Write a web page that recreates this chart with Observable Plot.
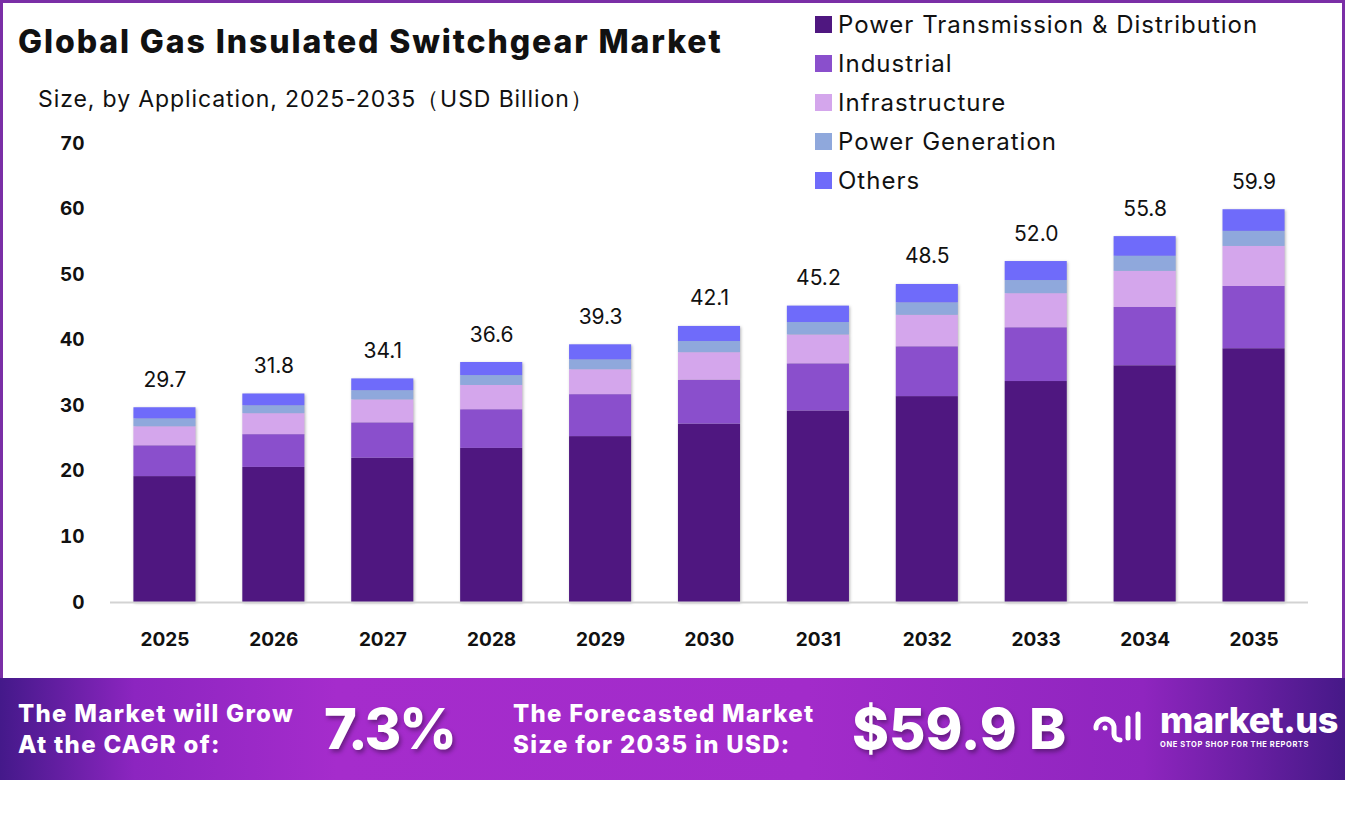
<!DOCTYPE html>
<html>
<head>
<meta charset="utf-8">
<script src="https://cdn.jsdelivr.net/npm/d3@7"></script>
<script src="https://cdn.jsdelivr.net/npm/@observablehq/plot@0.6"></script>
<style>
  html, body { margin: 0; padding: 0; background: #fff; }
  #page { position: relative; width: 1345px; height: 816px; overflow: hidden; background: #fff; font-family: Inter, "Open Sans", sans-serif; }
  #frame { position: absolute; left: 0; top: 0; width: 1345px; height: 680px; box-sizing: border-box; border: 3px solid #7a2ea6; border-bottom: none; }
  #title { position: absolute; left: 18px; top: 22px; font-size: 32px; font-weight: 800; color: #111; letter-spacing: 1.9px; white-space: nowrap; }
  #subtitle { position: absolute; left: 38px; top: 84px; font-size: 23px; font-weight: 400; color: #111; letter-spacing: 0.9px; white-space: nowrap; }
  #legend { position: absolute; left: 815px; top: 5px; }
  .lg { display: flex; align-items: center; height: 39px; font-size: 24px; letter-spacing: 1px; color: #111; white-space: nowrap; }
  .lg span.sw { display: inline-block; width: 17px; height: 17px; margin-right: 6px; }
  #chart { position: absolute; left: 0; top: 120px; }
  #chart g[aria-label="bar"] { filter: drop-shadow(1.5px 1px 1.5px rgba(0,0,0,0.28)); }
  #footer { position: absolute; left: 0; top: 678px; width: 1345px; height: 102px;
    background: linear-gradient(90deg, #44198a 0%, #8c25c0 10%, #a52ccc 25%, #a22bca 60%, #8f25bf 85%, #461988 100%); color: #fff; }
  .ft { position: absolute; font-weight: 800; font-size: 24px; letter-spacing: 1.3px; line-height: 31px; white-space: nowrap; }
  .big { position: absolute; font-weight: 800; font-size: 56px; line-height: 60px; white-space: nowrap; text-shadow: 2px 3px 4px rgba(0,0,0,0.35); }
  #logo { position: absolute; left: 1090px; top: 24px; display: flex; align-items: center; }
  #logo .name { font-size: 36px; font-weight: 800; line-height: 36px; letter-spacing: -0.5px; }
  #logo .tag { font-size: 7.5px; font-weight: 700; letter-spacing: 0.6px; margin-top: 2px; }
</style>
</head>
<body>
<div id="page">
  <div id="frame"></div>
  <div id="title">Global Gas Insulated Switchgear Market</div>
  <div id="subtitle">Size, by Application, 2025-2035（USD Billion）</div>
  <div id="legend"></div>
  <div id="chart"></div>
  <div id="footer">
    <div class="ft" style="left:18px; top:20px;">The Market will Grow<br>At the CAGR of:</div>
    <div class="big" style="left:324px; top:21px; letter-spacing:-2px;">7.3%</div>
    <div class="ft" style="left:513px; top:20px;">The Forecasted Market<br>Size for 2035 in USD:</div>
    <div class="big" style="left:852px; top:21px;">$59.9 B</div>
    <div id="logo">
      <svg width="70" height="40" viewBox="0 0 70 40">
        <g fill="none" stroke="#fff" stroke-width="5" stroke-linecap="round">
          <path d="M6 22 a9 9 0 1 1 18 0 v6 a6 6 0 0 0 6 6"/>
          <path d="M38 12 v20"/>
          <path d="M48 8 v24"/>
        </g>
        <circle cx="15" cy="22" r="2.5" fill="#fff"/>
      </svg>
      <div>
        <div class="name">market.us</div>
        <div class="tag">ONE STOP SHOP FOR THE REPORTS</div>
      </div>
    </div>
  </div>
</div>
<script>
// Market size by application, USD billion
const years = ["2025", "2026", "2027", "2028", "2029", "2030", "2031", "2032", "2033", "2034", "2035"];
const segments = ["Power Transmission & Distribution", "Industrial", "Infrastructure", "Power Generation", "Others"];
const colors = ["#4f1780", "#8a4fcc", "#d4a6ec", "#8fa8dc", "#6f6bfa"];

const powerTD        = [19.2, 20.6, 22.0, 23.5, 25.3, 27.2, 29.2, 31.4, 33.7, 36.1, 38.7];
const industrial     = [4.7, 5.0, 5.4, 5.9, 6.4, 6.7, 7.2, 7.6, 8.2, 8.9, 9.5];
const infrastructure = [2.9, 3.2, 3.5, 3.7, 3.8, 4.2, 4.4, 4.8, 5.2, 5.5, 6.1];
const powerGen       = [1.2, 1.2, 1.4, 1.5, 1.5, 1.7, 1.9, 1.9, 2.0, 2.3, 2.3];
const others         = [1.7, 1.8, 1.8, 2.0, 2.3, 2.3, 2.5, 2.8, 2.9, 3.0, 3.3];
const totals         = [29.7, 31.8, 34.1, 36.6, 39.3, 42.1, 45.2, 48.5, 52.0, 55.8, 59.9];
const yTicks = [0, 10, 20, 30, 40, 50, 60, 70];

const series = [powerTD, industrial, infrastructure, powerGen, others];
const rows = years.flatMap((year, i) =>
  segments.map((segment, k) => ({year, segment, value: series[k][i]}))
);
const totalRows = years.map((year, i) => ({year, total: totals[i]}));

// Legend
const legend = document.getElementById("legend");
segments.forEach((s, k) => {
  const row = document.createElement("div");
  row.className = "lg";
  row.innerHTML = `<span class="sw" style="background:${colors[k]}"></span>${s.replace("&", "&amp;")}`;
  legend.appendChild(row);
});

const chart = Plot.plot({
  width: 1345,
  height: 540,
  marginLeft: 110,
  marginRight: 37,
  marginTop: 23,
  marginBottom: 58,
  style: {fontFamily: "Inter, sans-serif", color: "#111", background: "transparent"},
  x: {domain: years, paddingInner: 0.43, paddingOuter: 0.215, round: false, label: null},
  y: {domain: [0, 70], label: null},
  color: {domain: segments, range: colors},
  marks: [
    Plot.barY(rows, {x: "year", y: "value", fill: "segment"}),
    Plot.ruleY([0], {stroke: "#d3d3d3", strokeWidth: 2}),
    Plot.text(totalRows, {
      x: "year", y: "total", text: d => d.total.toFixed(1),
      lineAnchor: "bottom", dy: -21, fontSize: 21, fill: "#111"
    }),
    Plot.axisX({tickSize: 0, tickPadding: 30, fontSize: 19, fontWeight: 700, label: null}),
    Plot.axisY({ticks: yTicks, tickSize: 0, tickPadding: 26, fontSize: 19, fontWeight: 700, label: null})
  ]
});
document.getElementById("chart").appendChild(chart);
</script>
</body>
</html>
